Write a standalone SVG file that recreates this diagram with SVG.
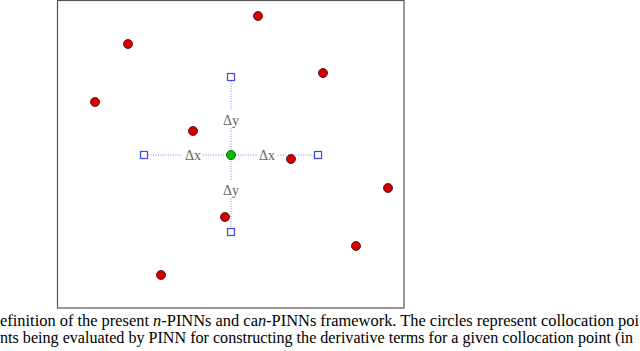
<svg xmlns="http://www.w3.org/2000/svg" width="640" height="351" viewBox="0 0 640 351">
<style>
.pt{fill:#d40000;stroke:#400000;stroke-width:0.8}
.sq{fill:#fff;stroke:#4040ff;stroke-width:1.2}
.ln{stroke:#8080ff;stroke-width:1;stroke-dasharray:1,1.5;fill:none}
.lb{font-family:"Liberation Serif",serif;font-size:14px;fill:#666;text-anchor:middle}
.lbg{fill:#fff}
.cap{font-family:"Liberation Serif",serif;font-size:15.8px;fill:#000}
</style>
<rect width="640" height="351" fill="#fff"/>
<rect id="frame" x="57.5" y="0.5" width="346.5" height="307.5" fill="none" stroke="#555" stroke-width="1.2"/>
<g id="connectors">
<line class="ln" x1="231" y1="81" x2="231" y2="228"/>
<line class="ln" x1="148" y1="155" x2="314" y2="155"/>
</g>
<g id="labels">
<rect class="lbg" x="221" y="111" width="20" height="16"/>
<text class="lb" x="231" y="125">Δy</text>
<rect class="lbg" x="183" y="147" width="20" height="16"/>
<text class="lb" x="193" y="160">Δx</text>
<rect class="lbg" x="257" y="147" width="20" height="16"/>
<text class="lb" x="267" y="160">Δx</text>
<rect class="lbg" x="221" y="181" width="20" height="16"/>
<text class="lb" x="231" y="195">Δy</text>
</g>
<g id="points">
<circle class="pt" cx="258" cy="16" r="4.5"/>
<circle class="pt" cx="128" cy="44" r="4.5"/>
<circle class="pt" cx="323" cy="73" r="4.5"/>
<circle class="pt" cx="95" cy="102" r="4.5"/>
<circle class="pt" cx="193" cy="131" r="4.5"/>
<circle class="pt" cx="291" cy="159" r="4.5"/>
<circle class="pt" cx="388" cy="188" r="4.5"/>
<circle class="pt" cx="225" cy="217" r="4.5"/>
<circle class="pt" cx="356" cy="246" r="4.5"/>
<circle class="pt" cx="161" cy="275" r="4.5"/>
</g>
<g id="center">
<circle cx="231" cy="155" r="4.5" fill="#00c000" stroke="#004000" stroke-width="0.8"/>
</g>
<g id="stencil">
<rect class="sq" x="227.5" y="73.5" width="7" height="7"/>
<rect class="sq" x="140.5" y="151.5" width="7" height="7"/>
<rect class="sq" x="314.5" y="151.5" width="7" height="7"/>
<rect class="sq" x="227.5" y="228.5" width="7" height="7"/>
</g>
<g id="caption">
<text class="cap" x="0" y="326" textLength="639" lengthAdjust="spacingAndGlyphs">efinition of the present <tspan font-style="italic">n</tspan>-PINNs and ca<tspan font-style="italic">n</tspan>-PINNs framework. The circles represent collocation poi</text>
<text class="cap" x="0" y="343" textLength="633" lengthAdjust="spacingAndGlyphs">nts being evaluated by PINN for constructing the derivative terms for a given collocation point (in</text>
</g>
</svg>
